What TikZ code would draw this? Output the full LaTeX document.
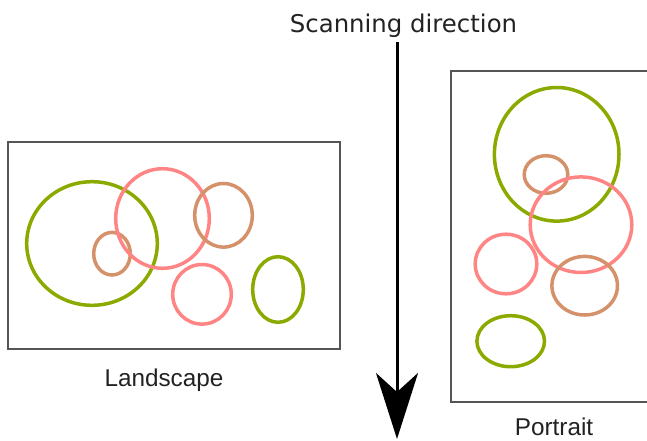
\documentclass[tikz,border=0pt]{standalone}
\usepackage{fontspec}
\setmainfont{Liberation Sans}
\newfontfamily\titlefont{DejaVu Sans}
\usetikzlibrary{arrows.meta}
\definecolor{cgreen}{HTML}{8AAA00}
\definecolor{cpink}{HTML}{FF8585}
\definecolor{cbrown}{HTML}{D5916A}
\definecolor{cframe}{HTML}{555555}
\definecolor{ctext}{HTML}{222222}
\tikzset{
  frame/.style={draw=cframe, line width=1.5pt},
  blob/.style={line width=3.5pt},
  lbl/.style={anchor=base, inner sep=0pt, text=ctext, font=\fontsize{24.3pt}{27pt}\selectfont},
}
\begin{document}
\begin{tikzpicture}[x=1pt,y=-1pt]
\useasboundingbox (0,0) rectangle (647,440);
\clip (0,0) rectangle (647,440);
% title and arrow
\node[lbl, font=\titlefont\fontsize{24.4pt}{27pt}\selectfont] (title) at (403.5,32) {Scanning direction};
\coordinate (atop) at (397,42);
\coordinate (atip) at (397,439);
\draw[line width=3pt, -{Stealth[length=66pt,width=42pt,inset=19pt]}] (atop) -- (atip);
% landscape
\draw[frame] (8,142) rectangle (340,349);
\draw[blob, cgreen] (92,243.5) ellipse [x radius=65.3pt, y radius=61.8pt];
\draw[blob, cbrown] (112,253.7) ellipse [x radius=18.3pt, y radius=21.3pt];
\draw[blob, cpink] (162.5,218.5) ellipse [x radius=46.8pt, y radius=49.8pt];
\draw[blob, cbrown] (223.5,215.3) ellipse [x radius=28.8pt, y radius=31.8pt];
\draw[blob, cpink] (202,294.3) ellipse [x radius=29.3pt, y radius=29.8pt];
\draw[blob, cgreen] (278,289.5) ellipse [x radius=25.3pt, y radius=32.8pt];
\node[lbl] (land) at (164,386) {Landscape};
% portrait
\draw[frame] (451,71) rectangle (660,402);
\draw[blob, cgreen] (556.7,154.3) ellipse [x radius=62.3pt, y radius=66.8pt];
\draw[blob, cbrown] (546,174.5) ellipse [x radius=21.8pt, y radius=18.8pt];
\draw[blob, cpink] (581,224.7) ellipse [x radius=50.8pt, y radius=47.8pt];
\draw[blob, cpink] (506,264) ellipse [x radius=30.8pt, y radius=29.8pt];
\draw[blob, cbrown] (584.7,285.7) ellipse [x radius=32.8pt, y radius=29.3pt];
\draw[blob, cgreen] (510.7,341.2) ellipse [x radius=33.8pt, y radius=25.5pt];
\node[lbl] (port) at (554,435) {Portrait};
\end{tikzpicture}
\end{document}
